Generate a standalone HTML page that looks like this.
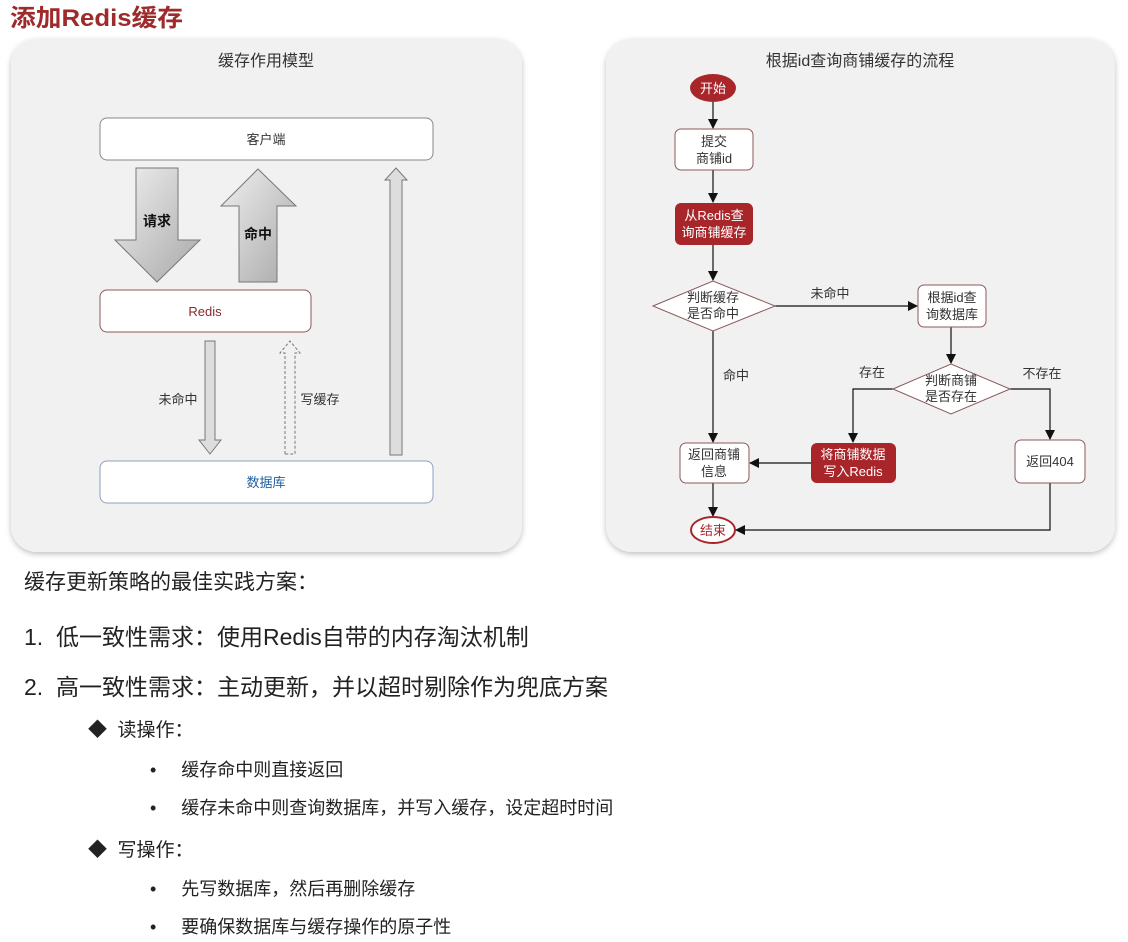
<!DOCTYPE html>
<html><head><meta charset="utf-8"><style>
html,body{margin:0;padding:0;background:#fff;width:1128px;height:942px;overflow:hidden;position:relative;font-family:"Liberation Sans","Noto Sans CJK SC",sans-serif;}
.t{position:absolute;white-space:nowrap;color:#222;}
svg text{font-family:"Liberation Sans","Noto Sans CJK SC",sans-serif;}
</style></head><body>
<svg width="1128" height="560" style="position:absolute;left:0;top:0">
<defs>
<linearGradient id="g1" x1="0" y1="0" x2="1" y2="1"><stop offset="0" stop-color="#f0f0f0"/><stop offset="1" stop-color="#a8a8a8"/></linearGradient>
<marker id="ah" markerWidth="10" markerHeight="10" refX="9" refY="5" orient="auto" markerUnits="userSpaceOnUse"><path d="M0,0 L10,5 L0,10 z" fill="#111"/></marker>
<filter id="sh" x="-5%" y="-5%" width="110%" height="110%"><feDropShadow dx="0" dy="2" stdDeviation="3" flood-color="#000" flood-opacity="0.25"/></filter>
</defs>
<text x="10" y="26" font-size="24" font-weight="bold" fill="#9e2a2b" textLength="173" lengthAdjust="spacingAndGlyphs">添加Redis缓存</text>
<rect x="11" y="39" width="511" height="513" rx="26" fill="#f1f1f1" filter="url(#sh)"/>
<rect x="606" y="39" width="509" height="513" rx="26" fill="#f1f1f1" filter="url(#sh)"/>
<text x="266" y="66" font-size="16" fill="#333" text-anchor="middle">缓存作用模型</text>
<rect x="100" y="118" width="333" height="42" rx="7" fill="#fff" stroke="#888"/>
<text x="266" y="144" font-size="13" fill="#333" text-anchor="middle">客户端</text>
<rect x="100" y="290" width="211" height="42" rx="7" fill="#fff" stroke="#8a5a5a"/>
<text x="205" y="316" font-size="13" fill="#8a2a2a" text-anchor="middle" font-family="Liberation Mono">Redis</text>
<rect x="100" y="461" width="333" height="42" rx="7" fill="#fff" stroke="#8ea0c0"/>
<text x="266" y="487" font-size="13" fill="#1f5f9f" text-anchor="middle">数据库</text>
<path d="M136,168 H178 V240 H200 L157,282 L115,240 H136 Z" fill="url(#g1)" stroke="#777"/>
<text x="157" y="226" font-size="14" font-weight="bold" fill="#111" text-anchor="middle">请求</text>
<path d="M258,169 L296,206 H277 V282 H239 V206 H221 Z" fill="url(#g1)" stroke="#777"/>
<text x="258" y="239" font-size="14" font-weight="bold" fill="#111" text-anchor="middle">命中</text>
<path d="M390,455 V180 H385 L396,168 L407,180 H402 V455 Z" fill="#ddd" stroke="#777"/>
<path d="M205,341 H215 V440 H221 L210,454 L199,440 H205 Z" fill="#ddd" stroke="#777"/>
<path d="M285,454 V353 H280 L290,341 L300,353 H295 V454 Z" fill="none" stroke="#777" stroke-dasharray="3,2"/>
<text x="178" y="404" font-size="13" fill="#333" text-anchor="middle">未命中</text>
<text x="320" y="404" font-size="13" fill="#333" text-anchor="middle">写缓存</text>

<text x="860" y="66" font-size="16" fill="#333" text-anchor="middle">根据id查询商铺缓存的流程</text>
<g stroke="#111" stroke-width="1.2" fill="none">
<line x1="713" y1="102" x2="713" y2="128" marker-end="url(#ah)"/>
<line x1="713" y1="170" x2="713" y2="202" marker-end="url(#ah)"/>
<line x1="713" y1="245" x2="713" y2="280" marker-end="url(#ah)"/>
<line x1="775" y1="306" x2="917" y2="306" marker-end="url(#ah)"/>
<line x1="713" y1="331" x2="713" y2="442" marker-end="url(#ah)"/>
<line x1="951" y1="327" x2="951" y2="363" marker-end="url(#ah)"/>
<polyline points="893,389 853,389 853,442" marker-end="url(#ah)"/>
<polyline points="1010,389 1050,389 1050,439" marker-end="url(#ah)"/>
<line x1="811" y1="463" x2="750" y2="463" marker-end="url(#ah)"/>
<line x1="713" y1="483" x2="713" y2="516" marker-end="url(#ah)"/>
<polyline points="1050,483 1050,530 736,530" marker-end="url(#ah)"/>
</g>
<ellipse cx="713" cy="88" rx="23" ry="14" fill="#a8252a"/>
<text x="713" y="93" font-size="13" fill="#fff" text-anchor="middle">开始</text>
<rect x="675" y="129" width="78" height="41" rx="6" fill="#fff" stroke="#8a5a5a"/>
<text x="714" y="146" font-size="13" fill="#333" text-anchor="middle">提交</text>
<text x="714" y="163" font-size="13" fill="#333" text-anchor="middle">商铺id</text>
<rect x="675" y="203" width="78" height="42" rx="6" fill="#a8252a"/>
<text x="714" y="220" font-size="13" fill="#fff" text-anchor="middle">从Redis查</text>
<text x="714" y="237" font-size="13" fill="#fff" text-anchor="middle">询商铺缓存</text>
<polygon points="653,306 713,281 775,306 713,331" fill="#fff" stroke="#8a5a5a"/>
<text x="713" y="302" font-size="13" fill="#333" text-anchor="middle">判断缓存</text>
<text x="713" y="318" font-size="13" fill="#333" text-anchor="middle">是否命中</text>
<text x="830" y="298" font-size="13" fill="#333" text-anchor="middle">未命中</text>
<rect x="918" y="285" width="68" height="42" rx="6" fill="#fff" stroke="#8a5a5a"/>
<text x="952" y="302" font-size="13" fill="#333" text-anchor="middle">根据id查</text>
<text x="952" y="319" font-size="13" fill="#333" text-anchor="middle">询数据库</text>
<text x="736" y="380" font-size="13" fill="#333" text-anchor="middle">命中</text>
<polygon points="893,389 951,364 1010,389 951,414" fill="#fff" stroke="#8a5a5a"/>
<text x="951" y="385" font-size="13" fill="#333" text-anchor="middle">判断商铺</text>
<text x="951" y="401" font-size="13" fill="#333" text-anchor="middle">是否存在</text>
<text x="872" y="377" font-size="13" fill="#333" text-anchor="middle">存在</text>
<text x="1042" y="378" font-size="13" fill="#333" text-anchor="middle">不存在</text>
<rect x="680" y="443" width="69" height="40" rx="6" fill="#fff" stroke="#8a5a5a"/>
<text x="714" y="459" font-size="13" fill="#333" text-anchor="middle">返回商铺</text>
<text x="714" y="476" font-size="13" fill="#333" text-anchor="middle">信息</text>
<rect x="811" y="443" width="85" height="40" rx="6" fill="#a8252a"/>
<text x="853" y="459" font-size="13" fill="#fff" text-anchor="middle">将商铺数据</text>
<text x="853" y="476" font-size="13" fill="#fff" text-anchor="middle">写入Redis</text>
<rect x="1015" y="440" width="70" height="43" rx="6" fill="#fff" stroke="#8a5a5a"/>
<text x="1050" y="466" font-size="13" fill="#333" text-anchor="middle">返回404</text>
<ellipse cx="713" cy="530" rx="22" ry="13" fill="#fff" stroke="#a8252a" stroke-width="2"/>
<text x="713" y="535" font-size="13" fill="#a8252a" text-anchor="middle">结束</text>
</svg>
<div class="t" style="left:24px;top:566px;font-size:21px;">缓存更新策略的最佳实践方案：</div>
<div class="t" style="left:24px;top:618px;font-size:23px;">1.&nbsp; 低一致性需求：使用Redis自带的内存淘汰机制</div>
<div class="t" style="left:24px;top:668px;font-size:23px;">2.&nbsp; 高一致性需求：主动更新，并以超时剔除作为兜底方案</div>
<div class="t" style="left:88px;top:715px;font-size:19px;">◆&nbsp; 读操作：</div>
<div class="t" style="left:150px;top:756px;font-size:18px;">•&nbsp;&nbsp;&nbsp;&nbsp; 缓存命中则直接返回</div>
<div class="t" style="left:150px;top:794px;font-size:18px;">•&nbsp;&nbsp;&nbsp;&nbsp; 缓存未命中则查询数据库，并写入缓存，设定超时时间</div>
<div class="t" style="left:88px;top:835px;font-size:19px;">◆&nbsp; 写操作：</div>
<div class="t" style="left:150px;top:875px;font-size:18px;">•&nbsp;&nbsp;&nbsp;&nbsp; 先写数据库，然后再删除缓存</div>
<div class="t" style="left:150px;top:913px;font-size:18px;">•&nbsp;&nbsp;&nbsp;&nbsp; 要确保数据库与缓存操作的原子性</div>
</body></html>
